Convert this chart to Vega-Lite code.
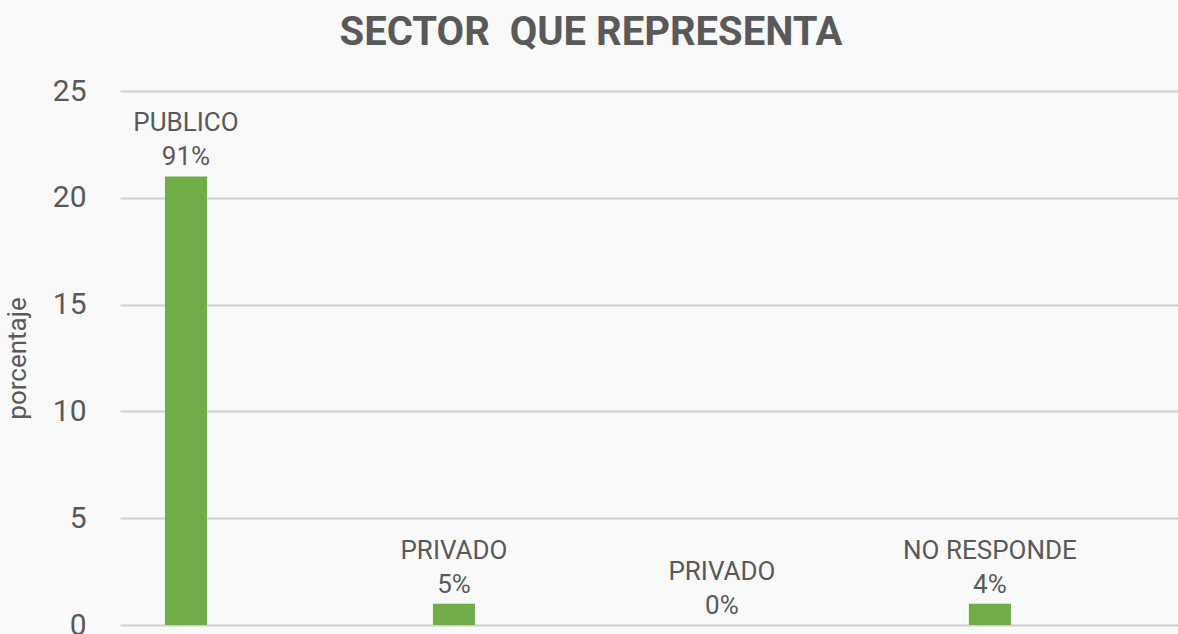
{
  "$schema": "https://vega.github.io/schema/vega-lite/v6.json",
  "autosize": {"type": "none"},
  "width": 1058,
  "height": 534,
  "padding": {"left": 120, "top": 91, "right": 0, "bottom": 9},
  "background": "#f9f9f9",
  "title": {
    "text": "SECTOR\u00a0 QUE REPRESENTA",
    "font": "Roboto",
    "fontSize": 40,
    "fontWeight": "bold",
    "color": "#595959",
    "anchor": "middle",
    "dx": -58,
    "offset": 23
  },
  "data": {
    "values": [
      {"orden": "1", "categoria": "PUBLICO", "valor": 21, "etiqueta": "PUBLICO\n91%"},
      {"orden": "2", "categoria": "PRIVADO", "valor": 1, "etiqueta": "PRIVADO\n5%"},
      {"orden": "3", "categoria": "PRIVADO", "valor": 0, "etiqueta": "PRIVADO\n0%"},
      {"orden": "4", "categoria": "NO RESPONDE", "valor": 1, "etiqueta": "NO RESPONDE\n4%"}
    ]
  },
  "encoding": {
    "x": {
      "field": "orden",
      "type": "nominal",
      "sort": null,
      "axis": null,
      "scale": {"type": "band", "paddingInner": 0.843, "paddingOuter": 0.3955, "align": 0.212}
    },
    "y": {
      "field": "valor",
      "type": "quantitative",
      "scale": {"domain": [0, 25], "nice": false},
      "axis": {
        "values": [0, 5, 10, 15, 20, 25],
        "title": "porcentaje",
        "titleFont": "Roboto",
        "titleFontSize": 26,
        "titleFontWeight": "normal",
        "titleColor": "#595959",
        "titlePadding": 22,
        "labelFont": "Roboto",
        "labelFontSize": 30,
        "labelColor": "#595959",
        "labelPadding": 34,
        "ticks": false,
        "domain": false,
        "grid": true,
        "gridColor": "#cfcfcf",
        "gridWidth": 2
      }
    }
  },
  "layer": [
    {"mark": {"type": "bar", "color": "#70ad47"}},
    {
      "mark": {
        "type": "text",
        "lineBreak": "\n",
        "lineHeight": 34,
        "baseline": "bottom",
        "dy": -40,
        "font": "Roboto",
        "fontSize": 26,
        "color": "#595959"
      },
      "encoding": {"text": {"field": "etiqueta"}}
    }
  ],
  "config": {"view": {"stroke": null}}
}
